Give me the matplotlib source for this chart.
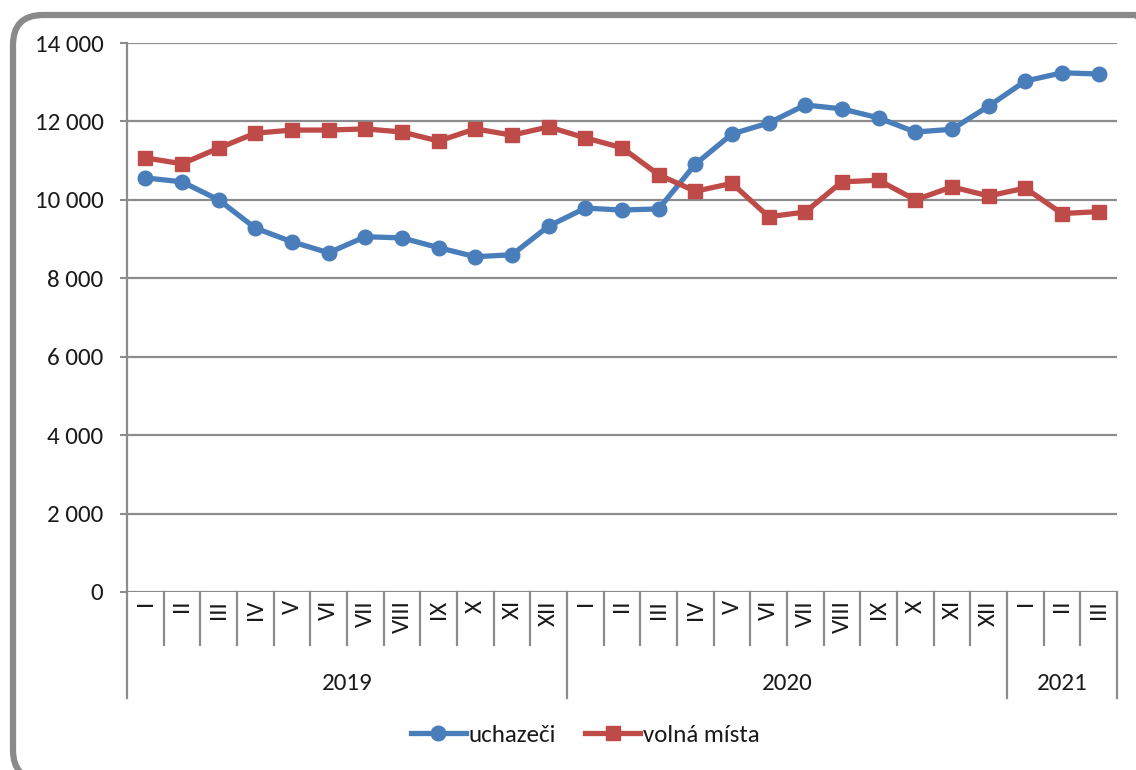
import matplotlib
matplotlib.use("Agg")
import matplotlib.pyplot as plt
from matplotlib.patches import FancyBboxPatch
from matplotlib.lines import Line2D
import matplotlib.transforms as mtransforms

months = ["I", "II", "III", "IV", "V", "VI", "VII", "VIII", "IX", "X", "XI", "XII",
          "I", "II", "III", "IV", "V", "VI", "VII", "VIII", "IX", "X", "XI", "XII",
          "I", "II", "III"]
years = ["2019", "2020", "2021"]
year_counts = [12, 12, 3]
uchazeci = [10560, 10460, 10000, 9280, 8930, 8650, 9060, 9030, 8780, 8550, 8600, 9330,
            9790, 9740, 9770, 10910, 11680, 11960, 12420, 12320, 12090, 11730, 11800, 12390,
            13030, 13240, 13210]
volna_mista = [11070, 10920, 11320, 11700, 11780, 11780, 11810, 11730, 11500, 11810, 11650, 11860,
               11580, 11330, 10640, 10220, 10420, 9570, 9690, 10460, 10500, 10000, 10330, 10100,
               10300, 9650, 9700]
yticks = [0, 2000, 4000, 6000, 8000, 10000, 12000, 14000]

FONT = ["Carlito", "Lato", "DejaVu Sans"]
plt.rcParams['font.family'] = FONT
FS = 18

W, H = 1136, 770
fig = plt.figure(figsize=(W / 100, H / 100), dpi=100)
ax = fig.add_axes([127 / W, 1 - 592 / H, (1117 - 127) / W, (592 - 43) / H])

grid_c = "#8c8c8c"
blue = "#4A7EBB"
red = "#BE4B48"
txt_c = "#1a1a1a"

n = len(months)
x = [i + 0.5 for i in range(n)]
ax.plot(x, uchazeci, color=blue, lw=3.8, marker="o", ms=10.5, zorder=3,
        label="uchazeči", solid_joinstyle="round")
ax.plot(x, volna_mista, color=red, lw=3.8, marker="s", ms=10, zorder=3,
        label="volná místa", solid_joinstyle="round")

ax.set_xlim(0, n)
ax.set_ylim(0, 14000)
ax.set_yticks(yticks)
ax.set_yticklabels([f"{v:,}".replace(",", " ") for v in yticks], fontsize=FS, color=txt_c)
ax.tick_params(axis="y", length=5, width=1.5, color=grid_c, pad=12)
for v in yticks[1:]:
    ax.axhline(v, color=grid_c, lw=1.6, zorder=1)
ax.set_xticks([])
for s in ["top", "right", "bottom"]:
    ax.spines[s].set_visible(False)
ax.spines["left"].set_color(grid_c)
ax.spines["left"].set_linewidth(1.6)
ax.axhline(0, color=grid_c, lw=1.6, zorder=2)

trans = mtransforms.blended_transform_factory(ax.transData, ax.transAxes)
ax_h = (592 - 43)
sep_short = -(645 - 592) / ax_h
sep_long = -(698 - 592) / ax_h
boundaries = [0]
for c in year_counts:
    boundaries.append(boundaries[-1] + c)
for i in range(0, n + 1):
    y1 = sep_long if i in boundaries else sep_short
    ax.add_line(Line2D([i, i], [0, y1], transform=trans, color=grid_c, lw=1.6, clip_on=False))
for i, m in enumerate(months):
    ax.text(i + 0.5, -(600 - 592) / ax_h, m, transform=trans, rotation=90, ha="center", va="top",
            fontsize=FS, color=txt_c)
for k, yname in enumerate(years):
    xc = (boundaries[k] + boundaries[k + 1]) / 2
    ax.text(xc, -(683 - 592) / ax_h, yname, transform=trans, ha="center", va="center",
            fontsize=FS, color=txt_c)

leg = fig.legend(loc="center", bbox_to_anchor=(585 / W, 1 - 735 / H), ncol=2, frameon=False,
                 fontsize=FS, handlelength=2.2, columnspacing=1.2, handletextpad=0.1)
for t in leg.get_texts():
    t.set_color(txt_c)

border = FancyBboxPatch((0.13, -0.10), 11.52, 7.65,
                        boxstyle="round,pad=0,rounding_size=0.3",
                        transform=fig.dpi_scale_trans, fill=False, edgecolor="#8a8a8a", lw=4.5,
                        zorder=10)
fig.patches.append(border)

fig.savefig("out.png", dpi=100)
